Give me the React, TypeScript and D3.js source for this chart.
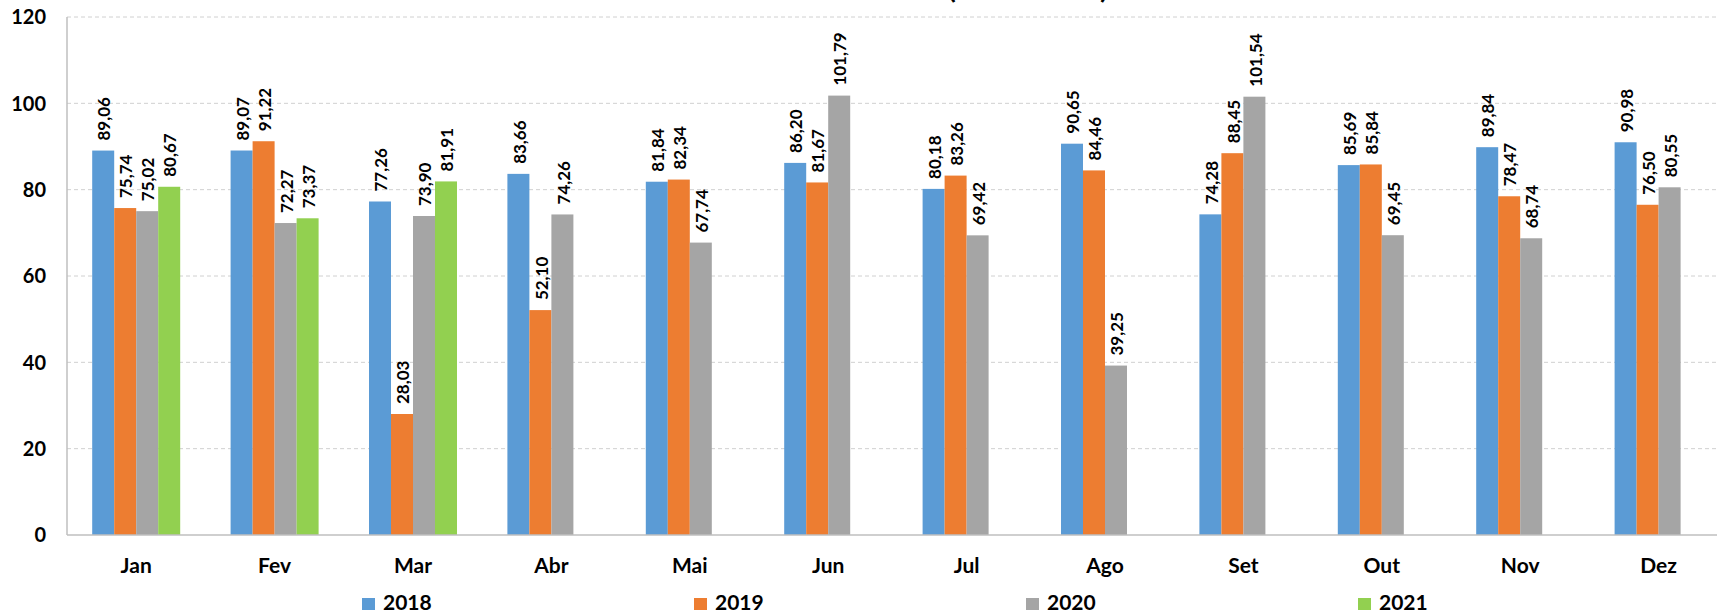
import React from 'react';
import * as d3 from 'd3';

const months = ['Jan', 'Fev', 'Mar', 'Abr', 'Mai', 'Jun', 'Jul', 'Ago', 'Set', 'Out', 'Nov', 'Dez'];
const years = ['2018', '2019', '2020', '2021'];

const v2018 = [89.06, 89.07, 77.26, 83.66, 81.84, 86.2, 80.18, 90.65, 74.28, 85.69, 89.84, 90.98];
const v2019 = [75.74, 91.22, 28.03, 52.1, 82.34, 81.67, 83.26, 84.46, 88.45, 85.84, 78.47, 76.5];
const v2020 = [75.02, 72.27, 73.9, 74.26, 67.74, 101.79, 69.42, 39.25, 101.54, 69.45, 68.74, 80.55];
const v2021: (number | null)[] = [80.67, 73.37, 81.91, null, null, null, null, null, null, null, null, null];

const yTicks = [0, 20, 40, 60, 80, 100, 120];

const colors = ['#5B9BD5', '#ED7D31', '#A5A5A5', '#92D050'];

const W = 1717;
const H = 613;
const FONT = 'Lato, "Open Sans", sans-serif';

const App: React.FC = () => {
  const series = [v2018, v2019, v2020, v2021];

  const left = 67;
  const bandW = 138.4;
  const x = d3.scaleBand<string>()
    .domain(months)
    .range([left, left + bandW * months.length])
    .padding(0);

  const groupW = 88;
  const x1 = d3.scaleBand<string>()
    .domain(years)
    .range([x.bandwidth() / 2 - groupW / 2, x.bandwidth() / 2 + groupW / 2]);

  const y = d3.scaleLinear().domain([0, 120]).range([535, 17]);

  const fmt = (v: number) => v.toFixed(2).replace('.', ',');

  const legendX = d3.scaleLinear().domain([0, 1]).range([362, 694]);

  return (
    <svg width={W} height={H} style={{ position: 'absolute', left: 0, top: 0, background: '#fff' }}
      fontFamily={FONT}>
      {/* title, cut off at the top: only the bottom of the brackets shows */}
      <text x={1028} y={-1} textAnchor="middle" fontSize={22} fontWeight="bold"
        textLength={160} lengthAdjust="spacingAndGlyphs">(em milhões)</text>

      {/* gridlines */}
      {yTicks.filter(t => t > 0).map(t => (
        <line key={t} x1={left} x2={W} y1={y(t)} y2={y(t)}
          stroke="#D0D0D0" strokeWidth={1} strokeDasharray="4,3" />
      ))}

      {/* tick labels */}
      {yTicks.map(t => (
        <text key={t} x={46} y={y(t)} dy="0.36em" textAnchor="end"
          fontSize={20} fontWeight="bold">{t}</text>
      ))}

      {/* bars */}
      {months.map((m, i) => (
        <g key={m} transform={`translate(${x(m)},0)`}>
          {series.map((s, k) => {
            const v = s[i];
            if (v == null) return null;
            const bx = x1(years[k]) || 0;
            return (
              <rect key={k} x={bx} y={y(v)} width={x1.bandwidth()} height={y(0) - y(v)}
                fill={colors[k]} />
            );
          })}
          {series.map((s, k) => {
            const v = s[i];
            if (v == null) return null;
            const cx = (x1(years[k]) || 0) + x1.bandwidth() / 2 + 1;
            const ty = y(v) - 10;
            return (
              <text key={'l' + k} transform={`translate(${cx},${ty}) rotate(-90)`}
                dy="0.36em" fontSize={17} fontWeight="bold">{fmt(v)}</text>
            );
          })}
          <text x={x.bandwidth() / 2} y={573} textAnchor="middle" fontSize={21} fontWeight="bold">{m}</text>
        </g>
      ))}

      {/* axes */}
      <line x1={left} x2={left} y1={y(120)} y2={y(0)} stroke="#BFBFBF" strokeWidth={1.5} />
      <line x1={left} x2={W} y1={y(0)} y2={y(0)} stroke="#BFBFBF" strokeWidth={1.5} />

      {/* legend */}
      {years.map((yr, k) => (
        <g key={yr} transform={`translate(${legendX(k)},0)`}>
          <rect x={0} y={598} width={13} height={12} fill={colors[k]} />
          <text x={21} y={610} fontSize={21} fontWeight="bold">{yr}</text>
        </g>
      ))}
    </svg>
  );
};

export default App;
